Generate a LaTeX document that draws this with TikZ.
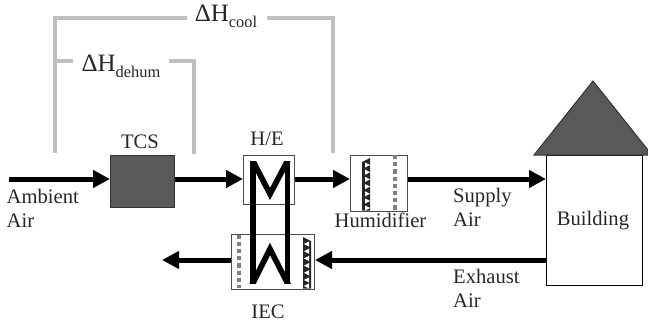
\documentclass[tikz,border=0pt]{standalone}
\usepackage{fontspec}
\setmainfont{Liberation Serif}
\usetikzlibrary{arrows.meta}
\newcommand{\txtsize}{\fontsize{20.6pt}{24pt}\selectfont}
\newcommand{\deltasize}{\fontsize{25pt}{28pt}\selectfont}
\newcommand{\subsize}{\fontsize{16.4pt}{18pt}\selectfont}
\newcommand{\dH}[1]{{\deltasize ΔH}\raisebox{-6pt}{\subsize #1}}
\tikzset{
  x=1pt,y=-1pt,
  lbl/.style={font=\txtsize,inner sep=0pt,text=black!85},
  lblw/.style={lbl,anchor=base west},
  lblc/.style={lbl,anchor=base},
  dlbl/.style={inner sep=0pt,anchor=base,text=black!85},
  unit/.style={draw=black!70,line width=1pt,fill=white,inner sep=0pt,anchor=north west},
  flow/.style={line width=5pt,-{Triangle[length=17pt,width=17pt]},black},
  coil/.style={line width=5.6pt,black,miter limit=10},
  bracket/.style={line width=3.3pt,draw=black!25},
  pad/.style={fill=black!85,draw=none},
  tooth/.style={fill=white,draw=none},
  mist/.style={line width=4pt,draw=black!50,dash pattern=on 4.2pt off 3pt}
}
\begin{document}
\begin{tikzpicture}
\useasboundingbox (0,0) rectangle (648,324);
% units
\node[unit,fill=black!65,draw=black!80,minimum width=64pt,minimum height=52pt] (tcs) at (110,155) {};
\node[unit,minimum width=51pt,minimum height=49pt] (he) at (243,155) {};
\node[unit,minimum width=57pt,minimum height=56pt] (hum) at (350,155) {};
\node[unit,minimum width=83pt,minimum height=55pt] (iec) at (231,234) {};
\node[unit,draw=black,minimum width=96pt,minimum height=130pt] (bld) at (546,155) {};
\draw[draw=black!80,line width=1pt,fill=black!65] (534,155) -- (593,81) -- (648,150) -- (648,155) -- cycle;
% free-end coordinates
\coordinate (ambstart) at (9,179);
\coordinate (outend) at (162,260);
\coordinate (excl) at (bld.west |- 0,260);
% flow arrows
\draw[flow] (ambstart) -- (tcs.west |- ambstart);
\draw[flow] (tcs.east |- ambstart) -- (he.west |- ambstart);
\draw[flow] (he.east |- ambstart) -- (hum.west |- ambstart);
\draw[flow] (hum.east |- ambstart) -- (bld.west |- ambstart);
\draw[flow] (excl) -- (iec.east |- excl);
\draw[flow] (iec.west |- excl) -- (outend);
% humidifier pad
\draw[mist] (395,155) -- (395,210);
\fill[pad] (362,162) -- (370,158) -- (370,210.5) -- (362,210.5) -- cycle;
\foreach \yy in {165,172.2,179.4,186.6,193.8,201,208}
  \fill[tooth] (365,\yy-2.6) -- (370,\yy) -- (365,\yy+2.6) -- cycle;
% IEC pad
\draw[mist] (239,234.5) -- (239,288);
\fill[pad] (303,237) -- (311,241) -- (311,288.5) -- (303,288.5) -- cycle;
\foreach \yy in {244,251.2,258.4,265.6,272.8,280,286}
  \fill[tooth] (309,\yy-2.6) -- (304,\yy) -- (309,\yy+2.6) -- cycle;
% coil, trimmed flat at its top and bottom
\begin{scope}
\clip (245,161) rectangle (296,283);
\draw[coil] (253,150) -- (253,290);
\draw[coil] (287.5,150) -- (287.5,290);
\draw[coil] (247.3,150) -- (270,194) -- (293.2,150);
\draw[coil] (247.5,294) -- (270,249) -- (293,294);
\end{scope}
% brackets
\coordinate (oa) at (55,153);
\coordinate (ob) at (55,18);
\coordinate (oc) at (187,18);
\coordinate (od) at (267,18);
\coordinate (oe) at (333,18);
\coordinate (of) at (333,153);
\coordinate (ia) at (55,61);
\coordinate (ib) at (73,61);
\coordinate (ic) at (169,61);
\coordinate (id) at (194,61);
\coordinate (ie) at (194,154);
\draw[bracket] (oa) -- (ob) -- (oc);
\draw[bracket] (od) -- (oe) -- (of);
\draw[bracket] (ia) -- (ib);
\draw[bracket] (ic) -- (id) -- (ie);
% labels
\node[dlbl] (lcool) at (226,21) {\dH{cool}};
\node[dlbl] (ldehum) at (121,71) {\dH{dehum}};
\node[lblc] (ltcs) at (140,148) {TCS};
\node[lblc] (lhe) at (267,145) {H/E};
\node[lblc] (lhum) at (380.5,227) {Humidifier};
\node[lblc] (liec) at (268,318) {IEC};
\node[lblc] (lbld) at (593,225) {Building};
\node[lblw] (lamb) at (6.5,203) {Ambient};
\node[lblw] (lamb2) at (6.5,227) {Air};
\node[lblw] (lsup) at (453,202) {Supply};
\node[lblw] (lsup2) at (453,226) {Air};
\node[lblw] (lexh) at (453,283) {Exhaust};
\node[lblw] (lexh2) at (453,307) {Air};
\end{tikzpicture}
\end{document}
